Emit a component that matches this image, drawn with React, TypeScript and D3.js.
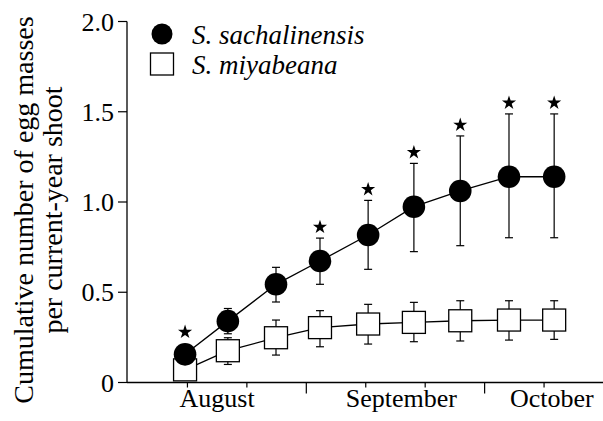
import { useEffect, useRef } from 'react';
import * as d3 from 'd3';

// sampling dates, days since 1 August
const sampleDays = [9.6, 16.8, 24.9, 32.3, 40.4, 48.1, 55.9, 64.1, 71.7];

const sachalinensisMean = [0.156, 0.34, 0.544, 0.673, 0.817, 0.974, 1.061, 1.14, 1.14];
const sachalinensisUpper = [0.19, 0.41, 0.638, 0.8, 1.009, 1.214, 1.366, 1.488, 1.488];
const sachalinensisLower = [0.12, 0.27, 0.446, 0.544, 0.627, 0.725, 0.758, 0.802, 0.802];
const significant = [true, false, false, true, true, true, true, true, true];

const miyabeanaMean = [0.07, 0.176, 0.248, 0.304, 0.324, 0.333, 0.342, 0.346, 0.346];
const miyabeanaUpper = [0.1, 0.248, 0.346, 0.398, 0.433, 0.444, 0.453, 0.453, 0.453];
const miyabeanaLower = [0.04, 0.1, 0.152, 0.198, 0.213, 0.226, 0.23, 0.235, 0.239];

const yTicks = [0, 0.5, 1.0, 1.5, 2.0];
const yTickLabels = ['0', '0.5', '1.0', '1.5', '2.0'];
const xTicks = [10, 20, 30, 40, 50, 60, 70];
const xLongTicks = [30, 60];
const monthLabels = ['August', 'September', 'October'];
const monthLabelDays = [15, 46, 71.3];

const legendNames = ['S. sachalinensis', 'S. miyabeana'];

const W = 603;
const H = 421;
const FONT = "'Liberation Serif', 'Times New Roman', Tinos, 'DejaVu Serif', serif";

function App() {
	const ref = useRef<SVGSVGElement>(null);

	useEffect(() => {
		const svg = d3.select(ref.current);
		svg.selectAll('*').remove();

		const x = d3.scaleLinear().domain([0, 80]).range([128, 603.5]);
		const y = d3.scaleLinear().domain([0, 2]).range([382.5, 21.5]);
		const axisX = 127;

		svg.append('rect').attr('width', W).attr('height', H).attr('fill', '#fff');

		// y axis
		svg.append('line')
			.attr('x1', axisX).attr('x2', axisX)
			.attr('y1', y(2)).attr('y2', y(0))
			.attr('stroke', '#000').attr('stroke-width', 1.3);
		yTicks.forEach((t, i) => {
			svg.append('line')
				.attr('x1', axisX - 9).attr('x2', axisX)
				.attr('y1', y(t)).attr('y2', y(t))
				.attr('stroke', '#000').attr('stroke-width', 1.2);
			svg.append('text')
				.attr('x', 114).attr('y', y(t))
				.attr('dy', '0.35em')
				.attr('text-anchor', 'end')
				.style('font-family', FONT)
				.attr('font-size', 26)
				.text(yTickLabels[i]);
		});

		// x axis
		svg.append('line')
			.attr('x1', axisX).attr('x2', W)
			.attr('y1', y(0)).attr('y2', y(0))
			.attr('stroke', '#000').attr('stroke-width', 1.3);
		xTicks.forEach(t => {
			const len = xLongTicks.includes(t) ? 11 : 5;
			svg.append('line')
				.attr('x1', x(t)).attr('x2', x(t))
				.attr('y1', y(0)).attr('y2', y(0) + len)
				.attr('stroke', '#000').attr('stroke-width', 1.2);
		});
		monthLabels.forEach((m, i) => {
			svg.append('text')
				.attr('x', x(monthLabelDays[i])).attr('y', 407)
				.attr('text-anchor', 'middle')
				.style('font-family', FONT)
				.attr('font-size', 26)
				.text(m);
		});

		// y axis title
		const title = svg.append('text')
			.attr('transform', `translate(33,${(y(0) + y(2)) / 2 + 8}) rotate(-90)`)
			.attr('text-anchor', 'middle')
			.style('font-family', FONT)
			.attr('font-size', 28);
		title.append('tspan').attr('x', 0).attr('y', 0).text('Cumulative number of egg masses');
		title.append('tspan').attr('x', 0).attr('y', 29).text('per current-year shoot');

		const line = d3.line<[number, number]>()
			.x(d => x(d[0]))
			.y(d => y(d[1]));

		const errorBars = (upper: number[], lower: number[]) => {
			sampleDays.forEach((d, i) => {
				const g = svg.append('g').attr('stroke', '#000').attr('stroke-width', 1.2);
				g.append('line')
					.attr('x1', x(d)).attr('x2', x(d))
					.attr('y1', y(upper[i])).attr('y2', y(lower[i]));
				[upper[i], lower[i]].forEach(v => {
					g.append('line')
						.attr('x1', x(d) - 4).attr('x2', x(d) + 4)
						.attr('y1', y(v)).attr('y2', y(v));
				});
			});
		};

		// S. miyabeana
		svg.append('path')
			.datum(sampleDays.map((d, i) => [d, miyabeanaMean[i]] as [number, number]))
			.attr('fill', 'none')
			.attr('stroke', '#000')
			.attr('stroke-width', 1.3)
			.attr('d', line);
		errorBars(miyabeanaUpper, miyabeanaLower);
		sampleDays.forEach((d, i) => {
			svg.append('rect')
				.attr('x', x(d) - 11.5).attr('y', y(miyabeanaMean[i]) - 11)
				.attr('width', 23).attr('height', 22)
				.attr('fill', '#fff')
				.attr('stroke', '#000')
				.attr('stroke-width', 1.3);
		});

		// S. sachalinensis
		svg.append('path')
			.datum(sampleDays.map((d, i) => [d, sachalinensisMean[i]] as [number, number]))
			.attr('fill', 'none')
			.attr('stroke', '#000')
			.attr('stroke-width', 1.3)
			.attr('d', line);
		errorBars(sachalinensisUpper, sachalinensisLower);
		sampleDays.forEach((d, i) => {
			svg.append('circle')
				.attr('cx', x(d)).attr('cy', y(sachalinensisMean[i]))
				.attr('r', 11.3)
				.attr('fill', '#000');
		});

		// significance stars
		const star = d3.symbol().type(d3.symbolStar).size(62);
		sampleDays.forEach((d, i) => {
			if (!significant[i]) return;
			const top = Math.min(y(sachalinensisUpper[i]), y(sachalinensisMean[i]) - 11.3);
			svg.append('path')
				.attr('d', star() as string)
				.attr('transform', `translate(${x(d)},${top - 11})`)
				.attr('fill', '#000');
		});

		// legend
		svg.append('circle').attr('cx', 162).attr('cy', 34).attr('r', 10.5).attr('fill', '#000');
		svg.append('rect')
			.attr('x', 150.5).attr('y', 53)
			.attr('width', 23).attr('height', 22)
			.attr('fill', '#fff').attr('stroke', '#000').attr('stroke-width', 1.3);
		legendNames.forEach((n, i) => {
			svg.append('text')
				.attr('x', 192).attr('y', 44 + i * 30)
				.style('font-family', FONT)
				.attr('font-style', 'italic')
				.attr('font-size', 27)
				.text(n);
		});
	}, []);

	return (
		<svg
			ref={ref}
			width={W}
			height={H}
			style={{ position: 'absolute', left: 0, top: 0 }}
		/>
	);
}

export default App;
